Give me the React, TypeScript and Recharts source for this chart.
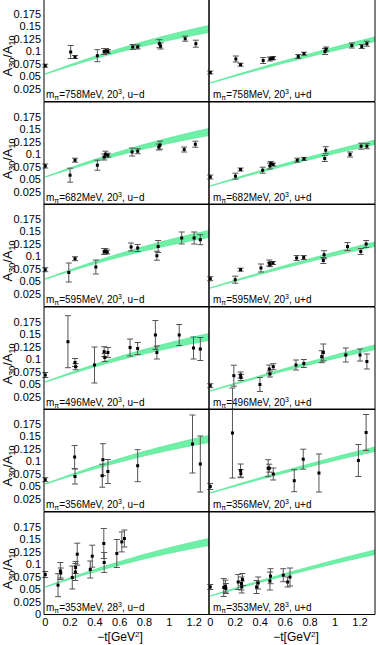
import React from 'react';
import { ComposedChart, Area, Scatter, ErrorBar, XAxis, YAxis } from 'recharts';

// -t values where the fit bands are sampled
const bandX = [0, 0.1, 0.2, 0.3, 0.4, 0.5, 0.6, 0.7, 0.8, 0.9, 1.0, 1.1, 1.2, 1.33];
// u-d band (left column)
const udBandLow = [0.0545, 0.0626, 0.0705, 0.0781, 0.0853, 0.0923, 0.0989, 0.1052, 0.1113, 0.117, 0.1225, 0.1276, 0.1325, 0.1385];
const udBandHigh = [0.0555, 0.0646, 0.0735, 0.0821, 0.0903, 0.0983, 0.1059, 0.1132, 0.1203, 0.127, 0.1335, 0.1396, 0.1455, 0.1525];
// u+d band (right column)
const usBandLow = [0.0365, 0.0436, 0.0506, 0.0575, 0.0643, 0.0709, 0.0774, 0.0837, 0.0899, 0.096, 0.102, 0.1078, 0.1135, 0.1207];
const usBandHigh = [0.0375, 0.0452, 0.0528, 0.0603, 0.0677, 0.0749, 0.082, 0.0889, 0.0957, 0.1024, 0.109, 0.1154, 0.1217, 0.1297];

const xTicks = [0, 0.2, 0.4, 0.6, 0.8, 1, 1.2];
const yTicks = [0.025, 0.05, 0.075, 0.1, 0.125, 0.15, 0.175];
const yTicksBottom = [0, 0.025, 0.05, 0.075, 0.1, 0.125, 0.15, 0.175];

const pionMasses = ['758', '682', '595', '496', '356', '353'];
const volumes = ['20', '20', '20', '20', '20', '28'];

// u-d lattice points
const ud758X = [0, 0.205, 0.24, 0.42, 0.475, 0.49, 0.505, 0.705, 0.745, 0.92, 0.93, 1.128, 1.214];
const ud758Y = [0.0716, 0.099, 0.089, 0.0916, 0.1, 0.101, 0.1, 0.109, 0.109, 0.1156, 0.111, 0.1256, 0.1156];
const ud758E = [0.003, 0.013, 0.003, 0.012, 0.006, 0.005, 0.004, 0.005, 0.004, 0.008, 0.006, 0.005, 0.007];

const ud682X = [0, 0.2, 0.24, 0.42, 0.475, 0.485, 0.505, 0.7, 0.745, 0.915, 0.925, 1.12, 1.21];
const ud682Y = [0.077, 0.0586, 0.0886, 0.0786, 0.095, 0.1006, 0.0986, 0.105, 0.1066, 0.115, 0.1186, 0.11, 0.1206];
const ud682E = [0.004, 0.014, 0.004, 0.01, 0.006, 0.006, 0.004, 0.008, 0.005, 0.006, 0.008, 0.005, 0.006];

const ud595X = [0, 0.19, 0.24, 0.408, 0.475, 0.485, 0.5, 0.692, 0.745, 0.9, 0.91, 1.1, 1.2, 1.25];
const ud595Y = [0.0736, 0.068, 0.0956, 0.079, 0.11, 0.111, 0.109, 0.119, 0.117, 0.1016, 0.12, 0.137, 0.137, 0.1336];
const ud595E = [0.004, 0.019, 0.004, 0.014, 0.006, 0.005, 0.004, 0.008, 0.007, 0.009, 0.012, 0.012, 0.012, 0.01];

const ud496X = [0, 0.183, 0.24, 0.245, 0.397, 0.475, 0.48, 0.505, 0.684, 0.745, 0.888, 0.9, 1.08, 1.195, 1.25];
const ud496Y = [0.069, 0.1356, 0.094, 0.0856, 0.089, 0.1156, 0.104, 0.114, 0.124, 0.122, 0.149, 0.114, 0.149, 0.123, 0.121];
const ud496E = [0.005, 0.052, 0.008, 0.006, 0.036, 0.01, 0.008, 0.01, 0.017, 0.012, 0.029, 0.013, 0.021, 0.022, 0.023];

const ud356X = [0, 0.237, 0.24, 0.46, 0.465, 0.505, 0.745, 1.187, 1.25];
const ud356Y = [0.0636, 0.109, 0.07, 0.0716, 0.1036, 0.08, 0.0916, 0.135, 0.095];
const ud356E = [0.004, 0.023, 0.015, 0.023, 0.032, 0.024, 0.032, 0.058, 0.056];

const ud353X = [0, 0.103, 0.122, 0.125, 0.218, 0.243, 0.245, 0.258, 0.363, 0.379, 0.472, 0.475, 0.577, 0.617, 0.638];
const ud353Y = [0.08, 0.0586, 0.087, 0.083, 0.074, 0.085, 0.094, 0.1206, 0.09, 0.1166, 0.142, 0.104, 0.122, 0.1452, 0.152];
const ud353E = [0.006, 0.023, 0.017, 0.01, 0.023, 0.017, 0.012, 0.022, 0.017, 0.022, 0.03, 0.02, 0.028, 0.02, 0.017];

// u+d lattice points
const us758X = [0, 0.205, 0.243, 0.424, 0.478, 0.496, 0.504, 0.705, 0.751, 0.92, 0.928, 1.134, 1.214, 1.255];
const us758Y = [0.058, 0.085, 0.0736, 0.082, 0.085, 0.086, 0.087, 0.09, 0.0956, 0.1, 0.105, 0.112, 0.11, 0.1156];
const us758E = [0.003, 0.006, 0.003, 0.006, 0.004, 0.003, 0.003, 0.004, 0.003, 0.006, 0.004, 0.005, 0.004, 0.005];

const us682X = [0, 0.202, 0.243, 0.42, 0.478, 0.486, 0.504, 0.697, 0.751, 0.917, 0.925, 1.12, 1.209, 1.255];
const us682Y = [0.055, 0.0566, 0.07, 0.0686, 0.077, 0.082, 0.08, 0.0886, 0.0913, 0.092, 0.1086, 0.1, 0.1166, 0.1166];
const us682E = [0.004, 0.006, 0.003, 0.006, 0.006, 0.004, 0.003, 0.004, 0.003, 0.006, 0.007, 0.005, 0.006, 0.005];

const us595X = [0, 0.2, 0.243, 0.406, 0.473, 0.478, 0.502, 0.692, 0.749, 0.906, 0.912, 1.1, 1.206, 1.249];
const us595Y = [0.0556, 0.0536, 0.0736, 0.077, 0.087, 0.0836, 0.087, 0.097, 0.098, 0.092, 0.1036, 0.12, 0.11, 0.125];
const us595E = [0.004, 0.007, 0.003, 0.008, 0.006, 0.004, 0.003, 0.005, 0.004, 0.006, 0.008, 0.008, 0.006, 0.007];

const us496X = [0, 0.189, 0.243, 0.245, 0.398, 0.473, 0.478, 0.505, 0.687, 0.75, 0.893, 0.906, 1.086, 1.2, 1.255];
const us496Y = [0.0476, 0.0676, 0.069, 0.064, 0.05, 0.081, 0.071, 0.0856, 0.089, 0.092, 0.1056, 0.114, 0.109, 0.109, 0.096];
const us496E = [0.004, 0.021, 0.006, 0.006, 0.014, 0.008, 0.006, 0.006, 0.01, 0.008, 0.012, 0.017, 0.014, 0.012, 0.015];

const us356X = [0, 0.178, 0.243, 0.245, 0.464, 0.473, 0.505, 0.673, 0.745, 0.871, 1.187, 1.249];
const us356Y = [0.05, 0.157, 0.082, 0.0756, 0.0866, 0.0866, 0.075, 0.0616, 0.1046, 0.077, 0.102, 0.158];
const us356E = [0.006, 0.09, 0.013, 0.008, 0.017, 0.008, 0.012, 0.022, 0.02, 0.038, 0.032, 0.036];

const us353X = [0, 0.108, 0.122, 0.125, 0.224, 0.25, 0.252, 0.258, 0.371, 0.384, 0.478, 0.483, 0.585, 0.62, 0.639];
const us353Y = [0.055, 0.054, 0.0566, 0.052, 0.065, 0.062, 0.055, 0.07, 0.055, 0.063, 0.067, 0.0766, 0.0786, 0.065, 0.075];
const us353E = [0.005, 0.018, 0.012, 0.01, 0.015, 0.013, 0.012, 0.012, 0.013, 0.012, 0.018, 0.015, 0.013, 0.01, 0.018];

const udRows = [
  [ud758X, ud758Y, ud758E],
  [ud682X, ud682Y, ud682E],
  [ud595X, ud595Y, ud595E],
  [ud496X, ud496Y, ud496E],
  [ud356X, ud356Y, ud356E],
  [ud353X, ud353Y, ud353E],
];
const usRows = [
  [us758X, us758Y, us758E],
  [us682X, us682Y, us682E],
  [us595X, us595Y, us595E],
  [us496X, us496Y, us496E],
  [us356X, us356Y, us356E],
  [us353X, us353Y, us353E],
];

const FONT = '"Liberation Sans", Arial, Helvetica, sans-serif';
const ROW_H = 102.5;
const TOP0 = -0.7;
const X_DOMAIN = [-0.01, 1.32];
const Y_DOMAIN = [0, 0.205];
const frame = { stroke: '#000', strokeWidth: 1 };

const Square = (p: any) => <rect x={p.cx - 1.5} y={p.cy - 1.5} width={3} height={3} fill="#000" />;

function Panel({ row, col }: { row: number; col: number }) {
  const isLeft = col === 0;
  const isBottom = row === 5;
  const w = isLeft ? 209 : 167;
  const h = ROW_H + (isBottom ? 18 : 0);
  const low = isLeft ? udBandLow : usBandLow;
  const high = isLeft ? udBandHigh : usBandHigh;
  const [xs, ys, es] = (isLeft ? udRows : usRows)[row];
  const band = bandX.map((x, i) => ({ x, band: [low[i], high[i]] }));
  const pts = xs.map((x, i) => ({ x, y: ys[i], e: es[i] }));

  return (
    <div style={{ position: 'absolute', left: isLeft ? 0 : 209, top: TOP0 + row * ROW_H }}>
      <ComposedChart width={w} height={h} data={band} margin={{ top: 0, right: isLeft ? 0 : 1, bottom: 0, left: 0 }}>
        <XAxis dataKey="x" type="number" domain={X_DOMAIN} ticks={xTicks} allowDataOverflow mirror
          tick={false} tickSize={4} axisLine={frame} tickLine={frame} />
        <XAxis xAxisId="top" dataKey="x" orientation="top" type="number" domain={X_DOMAIN} ticks={xTicks} allowDataOverflow mirror
          tick={false} tickSize={4} axisLine={frame} tickLine={frame} />
        {isBottom && (
          <XAxis xAxisId="lab" dataKey="x" type="number" domain={X_DOMAIN} ticks={xTicks} allowDataOverflow height={18}
            interval={0} axisLine={false} tickLine={false} tickSize={0} tickMargin={4}
            tick={{ fontSize: 11, fill: '#000', fontFamily: FONT }} />
        )}
        <YAxis type="number" domain={Y_DOMAIN} ticks={yTicks} allowDataOverflow mirror
          tick={false} tickSize={4} axisLine={frame} tickLine={frame} />
        <YAxis yAxisId="right" orientation="right" type="number" domain={Y_DOMAIN} ticks={yTicks} allowDataOverflow mirror
          tick={false} tickSize={4} axisLine={frame} tickLine={frame} />
        {isLeft && (
          <YAxis yAxisId="lab" type="number" domain={Y_DOMAIN} ticks={isBottom ? yTicksBottom : yTicks} allowDataOverflow
            width={44} interval={0} axisLine={false} tickLine={false} tickSize={0} tickMargin={3}
            tick={{ fontSize: 11, fill: '#000', fontFamily: FONT }} />
        )}
        <Area dataKey="band" type="monotone" stroke="#5fe99c" strokeWidth={0.8} fill="#6ef0a6" fillOpacity={1}
          dot={false} activeDot={false} isAnimationActive={false} />
        <Scatter data={pts} dataKey="y" shape={Square} isAnimationActive={false}>
          <ErrorBar dataKey="e" direction="y" width={3} stroke="#555" strokeWidth={1} isAnimationActive={false} />
        </Scatter>
      </ComposedChart>
    </div>
  );
}

export default function App() {
  const rows = [0, 1, 2, 3, 4, 5];
  return (
    <div style={{ position: 'absolute', left: 0, top: 0, width: 376, height: 645, background: '#fff', overflow: 'hidden', fontFamily: FONT, color: '#000' }}>
      <style>{'.recharts-surface{overflow:visible}'}</style>
      {rows.map((r) => (
        <React.Fragment key={r}>
          <Panel row={r} col={0} />
          <Panel row={r} col={1} />
          <div style={{
            position: 'absolute', left: 8 - 40, top: TOP0 + r * ROW_H + 57 - 9, width: 80, height: 18,
            transform: 'rotate(-90deg)', textAlign: 'center', fontSize: 13, lineHeight: '18px', whiteSpace: 'nowrap',
          }}>
            A<span style={{ fontSize: 9, verticalAlign: '-3px', lineHeight: '9px' }}>30</span>/A<span style={{ fontSize: 9, verticalAlign: '-3px', lineHeight: '9px' }}>10</span>
          </div>
          {[0, 1].map((c) => (
            <div key={c} style={{
              position: 'absolute', left: c === 0 ? 46 : 213, top: TOP0 + r * ROW_H + 88, fontSize: 10,
              lineHeight: '10px', whiteSpace: 'nowrap',
            }}>
              m<span style={{ fontSize: 7, verticalAlign: '-2px' }}>π</span>={pionMasses[r]}MeV, {volumes[r]}
              <span style={{ fontSize: 7, verticalAlign: '4px' }}>3</span>, {c === 0 ? 'u−d' : 'u+d'}
            </div>
          ))}
        </React.Fragment>
      ))}
      {[120, 296].map((cx) => (
        <div key={cx} style={{ position: 'absolute', left: cx - 40, top: 631, width: 80, textAlign: 'center', fontSize: 12, lineHeight: '13px' }}>
          −t[GeV<span style={{ fontSize: 8, verticalAlign: '4px', lineHeight: '8px' }}>2</span>]
        </div>
      ))}
    </div>
  );
}
